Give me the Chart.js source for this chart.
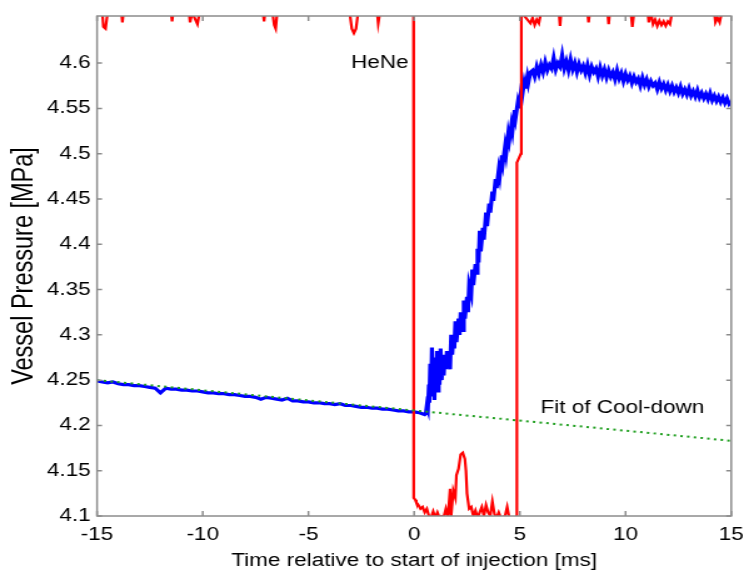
<!DOCTYPE html>
<html lang="en">
<head>
<meta charset="UTF-8">
<title>Vessel pressure during injection</title>
<style>
  html, body { margin: 0; padding: 0; background: #fff; }
</style>
</head>
<body>
<!-- the source figure is stretched sideways: draw it narrow, widen it with an inline style -->
<canvas id="chart" width="595" height="576" style="display:block;width:744px;height:576px"></canvas>

<script src="https://cdn.jsdelivr.net/npm/chart.js@4.4.1/dist/chart.umd.min.js"></script>
<script>
// axis ticks
const xTicks = [-15, -10, -5, 0, 5, 10, 15];
const yTicks = [4.1, 4.15, 4.2, 4.25, 4.3, 4.35, 4.4, 4.45, 4.5, 4.55, 4.6];

// vessel pressure [MPa], before injection
const preTime = [-15,-14.75,-14.5,-14.25,-14,-13.75,-13.5,-13.25,-13,-12.75,
  -12.5,-12.25,-12,-11.75,-11.5,-11.25,-11,-10.75,-10.5,-10.25,
  -10,-9.75,-9.5,-9.25,-9,-8.75,-8.5,-8.25,-8,-7.75,
  -7.5,-7.25,-7,-6.75,-6.5,-6.25,-6,-5.75,-5.5,-5.25,
  -5,-4.75,-4.5,-4.25,-4,-3.75,-3.5,-3.25,-3,-2.75,
  -2.5,-2.25,-2,-1.75,-1.5,-1.25,-1,-0.75,-0.5,-0.25,
  0,0.25,0.5];
const prePressure = [4.249,4.248,4.247,4.248,4.246,4.245,4.245,4.244,4.244,4.243,
  4.242,4.241,4.236,4.241,4.240,4.240,4.239,4.239,4.238,4.238,
  4.237,4.236,4.236,4.235,4.235,4.234,4.234,4.233,4.232,4.232,
  4.231,4.229,4.231,4.230,4.229,4.228,4.230,4.227,4.227,4.226,
  4.226,4.225,4.225,4.224,4.224,4.223,4.224,4.222,4.222,4.221,
  4.220,4.220,4.219,4.219,4.218,4.218,4.217,4.216,4.216,4.215,
  4.215,4.214,4.212];

// pressure rise during injection
const riseTime = [0.55,0.6,0.65,0.7,0.72,0.76,0.8,0.84,0.88,0.92,
  0.96,1.0,1.04,1.08,1.12,1.16,1.2,1.25,1.3,1.35,
  1.4,1.45,1.5,1.55,1.6,1.65,1.7,1.75,1.8,1.85,
  1.9,1.95,2.0,2.1,2.15,2.2,2.3,2.35,2.4,2.5,
  2.55,2.6,2.7,2.75,2.8,2.9,2.95,3.0,3.05,3.1,
  3.15,3.25,3.3,3.4,3.45,3.55,3.6,3.7,3.75,3.85,
  3.9,4.0,4.05,4.15,4.2,4.3,4.35,4.45,4.5,4.6,
  4.65,4.75,4.8,4.9,4.95,5.05,5.1,5.2,5.25,5.35,
  5.4,5.5];
const risePressure = [4.213,4.222,4.218,4.245,4.225,4.268,4.232,4.286,4.236,4.262,
  4.228,4.275,4.240,4.282,4.238,4.262,4.245,4.285,4.250,4.272,
  4.255,4.278,4.262,4.282,4.265,4.275,4.262,4.300,4.278,4.296,
  4.285,4.315,4.292,4.318,4.300,4.325,4.305,4.338,4.318,4.342,
  4.325,4.355,4.345,4.372,4.355,4.378,4.368,4.395,4.380,4.415,
  4.392,4.418,4.405,4.435,4.420,4.445,4.435,4.458,4.448,4.472,
  4.462,4.482,4.475,4.498,4.490,4.508,4.500,4.522,4.515,4.532,
  4.525,4.548,4.540,4.556,4.550,4.568,4.562,4.578,4.572,4.585,
  4.578,4.590];

// peak and slow decay after injection
const peakTime = [5.6,5.7,5.8,5.9,6.0,6.1,6.2,6.3,6.4,6.5,
  6.6,6.7,6.8,6.9,7.0,7.1,7.2,7.3,7.4,7.5,
  7.6,7.7,7.8,7.9,8.0,8.1,8.2,8.3,8.4,8.5,
  8.6,8.7,8.8,8.9,9.0,9.1,9.2,9.3,9.4,9.5,
  9.6,9.7,9.8,9.9,10.0,10.1,10.2,10.3,10.4,10.5,
  10.6,10.7,10.8,10.9,11.0,11.1,11.2,11.3,11.4,11.5,
  11.6,11.7,11.8,11.9,12.0,12.1,12.2,12.3,12.4,12.5,
  12.6,12.7,12.8,12.9,13.0,13.1,13.2,13.3,13.4,13.5,
  13.6,13.7,13.8,13.9,14.0,14.1,14.2,14.3,14.4,14.5,
  14.6,14.7,14.8,14.9,15.0];
const peakPressure = [4.592,4.585,4.596,4.588,4.598,4.590,4.601,4.592,4.598,4.594,
  4.606,4.593,4.600,4.596,4.609,4.594,4.602,4.592,4.604,4.593,
  4.600,4.590,4.599,4.592,4.597,4.589,4.598,4.587,4.596,4.590,
  4.594,4.585,4.595,4.586,4.593,4.584,4.592,4.585,4.590,4.582,
  4.592,4.583,4.589,4.580,4.588,4.581,4.586,4.578,4.585,4.579,
  4.583,4.575,4.584,4.576,4.582,4.574,4.580,4.575,4.578,4.571,
  4.579,4.572,4.577,4.570,4.576,4.569,4.575,4.568,4.573,4.567,
  4.574,4.566,4.571,4.565,4.572,4.564,4.569,4.563,4.570,4.562,
  4.567,4.561,4.566,4.560,4.567,4.559,4.564,4.558,4.563,4.557,
  4.562,4.556,4.561,4.555,4.558];

// HeNe laser signal (same axis, mostly off the top)
const heneTime = [-15,-14.75,-14.7,-14.6,-14.5,-13.85,-13.8,-13.75,-11.5,-11.45,
  -11.4,-10.65,-10.6,-10.5,-10.35,-10.25,-10.15,-7.15,-7.1,-7.05,
  -6.7,-6.62,-6.55,-6.48,-3.05,-2.95,-2.85,-2.75,-2.65,-1.75,
  -1.7,-1.62,-0.03,-0.02,0.05,0.1,0.2,0.3,0.4,0.5,
  0.6,0.7,0.8,0.9,1.0,1.1,1.2,1.3,1.4,1.5,
  1.6,1.7,1.75,1.85,1.95,2.0,2.1,2.2,2.3,2.4,
  2.45,2.5,2.6,2.7,2.8,2.9,3.0,3.1,3.2,3.3,
  3.4,3.5,3.6,3.7,3.8,3.9,4.0,4.1,4.3,4.4,
  4.5,4.8,4.84,4.86,5.05,5.07,5.5,5.6,5.7,5.8,
  5.9,6.0,6.85,6.9,6.95,8.2,8.25,8.3,9.15,9.2,
  9.25,10.25,10.32,10.4,11.05,11.1,11.2,11.3,11.4,11.5,
  11.6,11.7,11.8,11.9,12.0,12.1,12.2,14.2,14.25,14.35,
  14.45,14.55,15];
const heneLevel = [4.656,4.656,4.640,4.638,4.656,4.656,4.645,4.656,4.656,4.646,
  4.656,4.656,4.645,4.656,4.648,4.643,4.656,4.656,4.646,4.656,
  4.656,4.642,4.638,4.656,4.656,4.638,4.633,4.638,4.656,4.656,
  4.644,4.656,4.656,4.120,4.118,4.115,4.112,4.108,4.110,4.104,
  4.108,4.100,4.098,4.105,4.098,4.104,4.098,4.100,4.099,4.108,
  4.098,4.130,4.100,4.128,4.120,4.145,4.152,4.168,4.170,4.163,
  4.150,4.125,4.108,4.110,4.100,4.106,4.098,4.104,4.110,4.100,
  4.112,4.104,4.100,4.116,4.102,4.098,4.104,4.098,4.100,4.110,
  4.098,4.098,4.100,4.490,4.500,4.656,4.644,4.650,4.642,4.648,
  4.644,4.656,4.656,4.641,4.656,4.656,4.645,4.656,4.656,4.643,
  4.656,4.656,4.640,4.656,4.656,4.645,4.656,4.643,4.648,4.641,
  4.647,4.642,4.646,4.641,4.646,4.643,4.656,4.656,4.645,4.650,
  4.645,4.656,4.656];

// linear fit of the cool-down
const fitTime = [-15, 15];
const fitPressure = [4.250, 4.183];

// text placed in the plot
const notes = [
  { text: 'HeNe', t: -2.98, v: 4.6 },
  { text: 'Fit of Cool-down', t: 5.97, v: 4.219 }
];

const toPoints = (xs, ys) => xs.map((x, i) => ({ x: x, y: ys[i] }));
const blueTime = preTime.concat(riseTime, peakTime);
const bluePressure = prePressure.concat(risePressure, peakPressure);

Chart.defaults.font.family = "'Liberation Sans', Arial, sans-serif";
Chart.defaults.font.size = 18;
Chart.defaults.color = '#000';

// MATLAB style box with inward ticks, plus the two text notes
const framePlugin = {
  id: 'frame',
  afterDatasetsDraw(chart) {
    const { ctx, chartArea: a, scales: { x, y } } = chart;
    ctx.save();
    ctx.strokeStyle = '#8c8c8c';
    ctx.lineWidth = 1.5;
    ctx.strokeRect(a.left, a.top, a.right - a.left, a.bottom - a.top);
    ctx.beginPath();
    x.ticks.forEach(t => {
      const px = x.getPixelForValue(t.value);
      ctx.moveTo(px, a.bottom); ctx.lineTo(px, a.bottom - 5);
      ctx.moveTo(px, a.top); ctx.lineTo(px, a.top + 5);
    });
    y.ticks.forEach(t => {
      const py = y.getPixelForValue(t.value);
      ctx.moveTo(a.left, py); ctx.lineTo(a.left + 4, py);
      ctx.moveTo(a.right, py); ctx.lineTo(a.right - 4, py);
    });
    ctx.stroke();

    ctx.fillStyle = '#000';
    ctx.font = "18px 'Liberation Sans', Arial, sans-serif";
    ctx.textBaseline = 'middle';
    ctx.textAlign = 'left';
    notes.forEach(n => {
      ctx.fillText(n.text, x.getPixelForValue(n.t), y.getPixelForValue(n.v));
    });
    ctx.restore();
  }
};

const ctx = document.getElementById('chart').getContext('2d');
const chart = new Chart(ctx, {
  type: 'line',
  data: {
    datasets: [
      {
        label: 'Fit of Cool-down',
        data: toPoints(fitTime, fitPressure),
        borderColor: '#1e9e1e',
        borderWidth: 2,
        borderDash: [2, 3.4],
        pointRadius: 0
      },
      {
        label: 'HeNe',
        data: toPoints(heneTime, heneLevel),
        borderColor: '#ff0000',
        borderWidth: 2.2,
        pointRadius: 0
      },
      {
        label: 'Vessel Pressure',
        data: toPoints(blueTime, bluePressure),
        borderColor: '#0000ff',
        borderWidth: 3.2,
        pointRadius: 0
      }
    ]
  },
  options: {
    responsive: false,
    animation: false,
    events: [],
    layout: { padding: { top: 16, right: 10.2, bottom: 0, left: 0 } },
    plugins: {
      legend: { display: false },
      tooltip: { enabled: false }
    },
    scales: {
      x: {
        type: 'linear',
        min: -15,
        max: 15,
        grid: { display: false, drawTicks: false },
        border: { display: false },
        ticks: { padding: 8, maxRotation: 0, autoSkip: false, callback: v => String(v) },
        afterBuildTicks: s => { s.ticks = xTicks.map(v => ({ value: v })); },
        afterFit: s => { s.height = 60; s.paddingLeft = 0; s.paddingRight = 0; },
        title: {
          display: true,
          text: 'Time relative to start of injection [ms]',
          padding: { top: 0, bottom: 4 }
        }
      },
      y: {
        type: 'linear',
        min: 4.1,
        max: 4.652,
        grid: { display: false, drawTicks: false },
        border: { display: false },
        ticks: { padding: 5, autoSkip: false, callback: v => String(+v.toFixed(2)) },
        afterBuildTicks: s => { s.ticks = yTicks.map(v => ({ value: v })); },
        afterFit: s => { s.width = 77.6; s.paddingTop = 0; s.paddingBottom = 0; },
        title: {
          display: true,
          text: 'Vessel Pressure [MPa]',
          font: { size: 23.5 },
          padding: { top: 5, bottom: 0 }
        }
      }
    }
  },
  plugins: [framePlugin]
});
</script>
</body>
</html>
